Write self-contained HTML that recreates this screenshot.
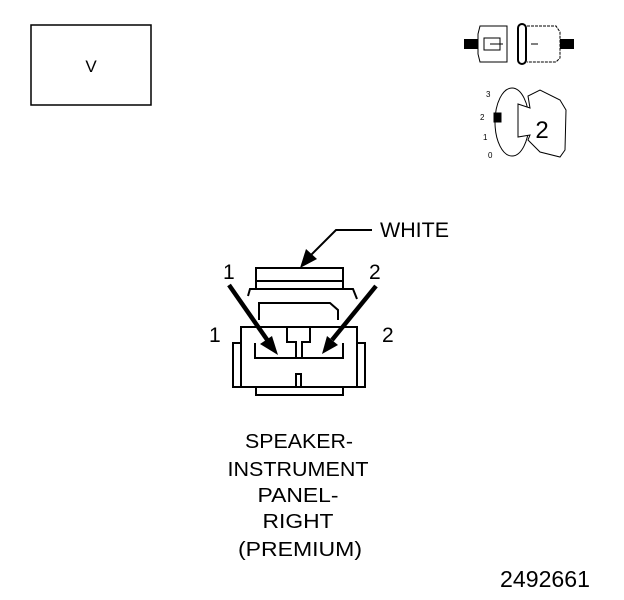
<!DOCTYPE html>
<html><head><style>body{margin:0;background:#fff}svg{display:block}</style></head>
<body>
<svg width="624" height="600" viewBox="0 0 624 600" xmlns="http://www.w3.org/2000/svg" font-family="Liberation Sans, sans-serif">
<rect width="624" height="600" fill="#fff"/>
<rect x="31" y="25" width="120" height="80" fill="none" stroke="#000" stroke-width="1.5"/>
<text x="91" y="72" font-size="17" text-anchor="middle">V</text>
<g stroke="#000" fill="none" stroke-width="1">
<rect x="464" y="39" width="14" height="10" fill="#000" stroke="none"/>
<rect x="560" y="39" width="14" height="10" fill="#000" stroke="none"/>
<path d="M478 34 L480 26 L507 26 L507 62 L480 62 L478 54 Z"/>
<path d="M484 38 L500 38 L500 50 L484 50 Z M490 44 L503 44"/>
<rect x="518" y="24" width="8" height="40" rx="4" stroke-width="2"/>
<path d="M527 26 L556 26 L560 32 L560 58 L556 62 L527 62" stroke-dasharray="3,1"/>
<path d="M531 44 L538 44"/>
</g>
<g font-size="8">
<text x="486" y="97">3</text><text x="480" y="120">2</text><text x="483" y="140">1</text><text x="488" y="158">0</text>
</g>
<g stroke="#000" fill="none" stroke-width="1">
<ellipse cx="512" cy="122" rx="17" ry="34"/>
<path d="M518 104 L530 108 L528 96 L540 90 L560 100 L566 110 L565 150 L560 157 L540 152 L528 140 L530 135 L518 137 Z" fill="#fff"/>
<rect x="494" y="113" width="7" height="9" fill="#000"/>
</g>
<text x="542" y="138" font-size="24" text-anchor="middle">2</text>
<g stroke="#000" fill="none" stroke-width="2">
<rect x="256" y="268" width="87" height="21"/>
<path d="M256 281 L343 281"/>
<path d="M248 296 L250 289 L353 289 L357 299"/>
<path d="M259 320 L259 303 L330 303 L338 310 L338 320"/>
<rect x="241" y="327" width="116" height="60" fill="#fff"/>
<path d="M241 343 L233 343 L233 387 L241 387 M357 343 L365 343 L365 387 L357 387"/>
<path d="M256 387 L256 395 L343 395 L343 387"/>
<path d="M255 343 L255 358 L343 358 L343 343"/>
<path d="M296 358 L296 342 L287 342 L287 327 L310 327 L310 342 L302 342 L302 358"/>
<rect x="296" y="374" width="5" height="13"/>
</g>
<g stroke="#000" stroke-width="4.5">
<line x1="229" y1="285" x2="268" y2="341"/>
<line x1="376" y1="286" x2="332" y2="340"/>
</g>
<polygon points="278,355 260,344 272,336" fill="#000"/>
<polygon points="322,354 327,336 338,345" fill="#000"/>
<path d="M372 230 L336 230 L310 256" stroke="#000" stroke-width="2" fill="none"/>
<polygon points="300,268 306,249 317,259" fill="#000"/>
<g font-size="21">
<text x="380" y="237" textLength="69" lengthAdjust="spacingAndGlyphs">WHITE</text>
<text x="223" y="279">1</text>
<text x="369" y="279">2</text>
<text x="209" y="342">1</text>
<text x="382" y="342">2</text>
</g>
<g font-size="20" text-anchor="middle" lengthAdjust="spacingAndGlyphs">
<text x="299" y="448" textLength="108" lengthAdjust="spacingAndGlyphs">SPEAKER-</text>
<text x="298" y="476" textLength="141" lengthAdjust="spacingAndGlyphs">INSTRUMENT</text>
<text x="298" y="502" textLength="81" lengthAdjust="spacingAndGlyphs">PANEL-</text>
<text x="298" y="528" textLength="71" lengthAdjust="spacingAndGlyphs">RIGHT</text>
<text x="300" y="556" textLength="124" lengthAdjust="spacingAndGlyphs">(PREMIUM)</text>
</g>
<text x="590" y="587" font-size="23" text-anchor="end" textLength="90" lengthAdjust="spacingAndGlyphs">2492661</text>
</svg>
</body></html>
